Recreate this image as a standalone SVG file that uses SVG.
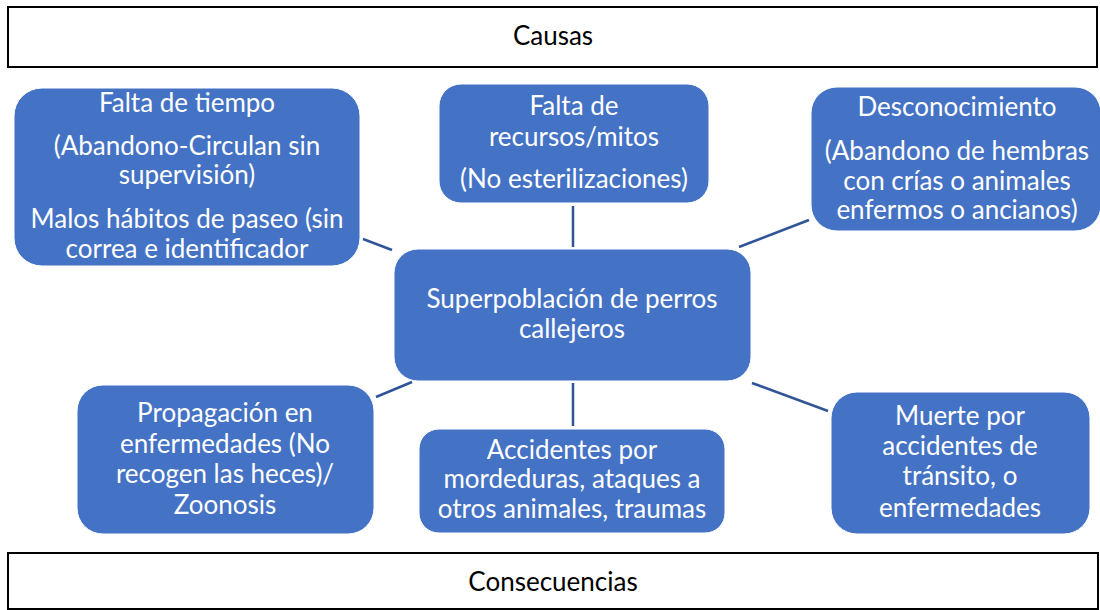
<svg xmlns="http://www.w3.org/2000/svg" width="1100" height="610" viewBox="0 0 1100 610">
<style>
.frame{fill:#fff;stroke:#000;stroke-width:2}
.node{fill:#4472C4;stroke:#ffffff;stroke-width:1}
.t{font-family:Lato,"Open Sans",sans-serif;font-size:26px;fill:#fff;text-anchor:middle}
.h{font-family:Lato,"Open Sans",sans-serif;font-size:26px;fill:#000;text-anchor:middle}
.c line{stroke:#2F5597;stroke-width:2.5}
</style>
<rect width="1100" height="610" fill="#fff"/>
<g id="causas"><rect class="frame" x="8" y="7" width="1089" height="60"/><text class="h" x="553" y="45">Causas</text></g>
<g id="consecuencias"><rect class="frame" x="8" y="553" width="1090" height="56"/><text class="h" x="553" y="591">Consecuencias</text></g>
<g class="c" id="connectors">
<line x1="363" y1="239" x2="392" y2="250"/>
<line x1="573" y1="206" x2="573" y2="247"/>
<line x1="809" y1="220" x2="739" y2="247"/>
<line x1="412" y1="382" x2="376" y2="397"/>
<line x1="573" y1="383" x2="573" y2="426"/>
<line x1="752" y1="383" x2="828" y2="411"/>
</g>
<g id="n1"><rect class="node" x="14" y="88" width="346" height="178" rx="28"/>
<text class="t" x="187" y="112">Falta de tiempo</text>
<text class="t" x="187" y="155">(Abandono-Circulan sin</text>
<text class="t" x="187" y="184">supervisión)</text>
<text class="t" x="187" y="228">Malos hábitos de paseo (sin</text>
<text class="t" x="187" y="258">correa e identificador</text></g>
<g id="n2"><rect class="node" x="439" y="84" width="270" height="119" rx="22"/>
<text class="t" x="574" y="115">Falta de</text>
<text class="t" x="574" y="146">recursos/mitos</text>
<text class="t" x="574" y="188">(No esterilizaciones)</text></g>
<g id="n3"><rect class="node" x="811" y="87" width="290" height="144" rx="26"/>
<text class="t" x="957" y="116">Desconocimiento</text>
<text class="t" x="957" y="160">(Abandono de hembras</text>
<text class="t" x="957" y="190">con crías o animales</text>
<text class="t" x="957" y="219">enfermos o ancianos)</text></g>
<g id="center"><rect class="node" x="394" y="249" width="357" height="132" rx="24"/>
<text class="t" x="572" y="308">Superpoblación de perros</text>
<text class="t" x="572" y="338">callejeros</text></g>
<g id="n4"><rect class="node" x="77" y="385" width="297" height="149" rx="26"/>
<text class="t" x="225" y="422">Propagación en</text>
<text class="t" x="225" y="453">enfermedades (No</text>
<text class="t" x="225" y="483">recogen las heces)/</text>
<text class="t" x="225" y="514">Zoonosis</text></g>
<g id="n5"><rect class="node" x="419" y="429" width="306" height="104" rx="20"/>
<text class="t" x="572" y="459">Accidentes por</text>
<text class="t" x="572" y="488">mordeduras, ataques a</text>
<text class="t" x="572" y="518">otros animales, traumas</text></g>
<g id="n6"><rect class="node" x="831" y="392" width="259" height="142" rx="26"/>
<text class="t" x="960" y="425">Muerte por</text>
<text class="t" x="960" y="455">accidentes de</text>
<text class="t" x="960" y="485">tránsito, o</text>
<text class="t" x="960" y="517">enfermedades</text></g>
</svg>
